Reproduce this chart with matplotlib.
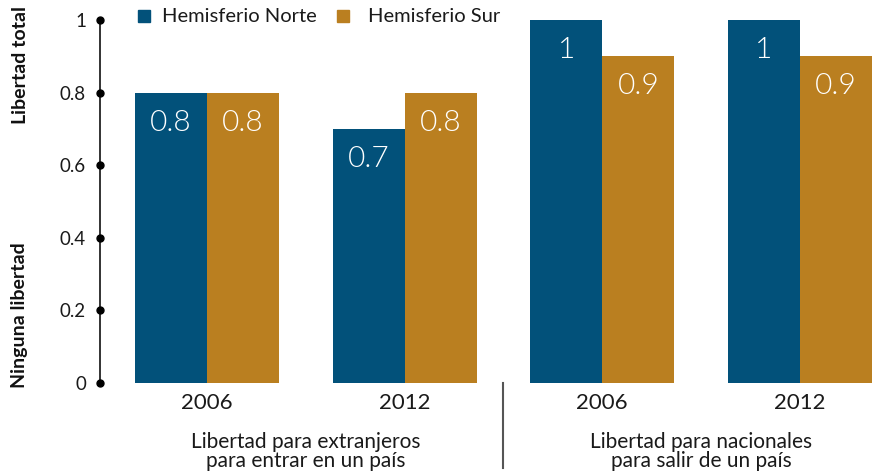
import matplotlib
matplotlib.use("Agg")
import matplotlib.pyplot as plt
import numpy as np

plt.rcParams['font.family'] = ['Lato', 'DejaVu Sans']

years = ["2006", "2012", "2006", "2012"]
groups = ["Libertad para extranjeros\npara entrar en un país",
          "Libertad para nacionales\npara salir de un país"]
norte = [0.8, 0.7, 1.0, 1.0]
sur = [0.8, 0.8, 0.9, 0.9]
series_names = ["Hemisferio Norte", "Hemisferio Sur"]
yticks = [0, 0.2, 0.4, 0.6, 0.8, 1]
ytick_labels = ["0", "0.2", "0.4", "0.6", "0.8", "1"]

c_norte = "#02517A"
c_sur = "#BA7F20"
txt = "#1a1a1a"

fig = plt.figure(figsize=(8.72, 4.74), dpi=100)
ax = fig.add_axes([100 / 872, 91 / 474, 772 / 872, 363 / 474])

x = np.arange(len(years))
w = 0.365
ax.bar(x - w / 2, norte, w, color=c_norte, edgecolor="none")
ax.bar(x + w / 2, sur, w, color=c_sur, edgecolor="none")

ax.set_xlim(-0.542, 3.365)
ax.set_ylim(0, 1)

for xi, v in zip(x, norte):
    ax.text(xi - w / 2, v - 0.083, f"{v:g}", color="white", fontsize=21.5,
            fontweight=300, ha="center", va="center")
for xi, v in zip(x, sur):
    ax.text(xi + w / 2, v - 0.083, f"{v:g}", color="white", fontsize=21.5,
            fontweight=300, ha="center", va="center")

# spines and axes
for s in ["top", "right", "bottom"]:
    ax.spines[s].set_visible(False)
ax.spines["left"].set_color("#111111")
ax.spines["left"].set_linewidth(1.2)
ax.set_yticks(yticks)
ax.set_yticklabels(ytick_labels, fontsize=13.5, color=txt)
ax.tick_params(axis="y", length=0, pad=10)
ax.plot([-0.542] * len(yticks), yticks, "o", color="black", markersize=5,
        clip_on=False, zorder=5)

ax.set_xticks(x)
ax.set_xticklabels(years, fontsize=16, color=txt)
ax.tick_params(axis="x", length=0, pad=7)

# group labels and separator
for gx, label in zip([0.5, 2.5], groups):
    ax.text(gx, -0.135, label, transform=ax.get_xaxis_transform(),
            ha="center", va="top", fontsize=15, color=txt, linespacing=0.92)
ax.plot([1.5, 1.5], [0, -0.235], transform=ax.get_xaxis_transform(),
        color="#555555", lw=1.5, clip_on=False)

# legend
fig.patches.append(plt.Rectangle((138 / 872, 1 - 22 / 474), 12 / 872, 12 / 474,
                                 transform=fig.transFigure, color=c_norte))
fig.text(162 / 872, 1 - 16 / 474, series_names[0], fontsize=14.5, va="center",
         color=txt)
fig.patches.append(plt.Rectangle((337 / 872, 1 - 22 / 474), 12 / 872, 12 / 474,
                                 transform=fig.transFigure, color=c_sur))
fig.text(368 / 872, 1 - 16 / 474, series_names[1], fontsize=14.5, va="center",
         color=txt)

# y-axis extremes
fig.text(20 / 872, 1 - 65 / 474, "Libertad total", rotation=90, fontsize=14,
         fontweight="bold", ha="center", va="center", color="#111111")
fig.text(20 / 872, 1 - 315 / 474, "Ninguna libertad", rotation=90, fontsize=14,
         fontweight="bold", ha="center", va="center", color="#111111")

fig.savefig("out.png", dpi=100)
